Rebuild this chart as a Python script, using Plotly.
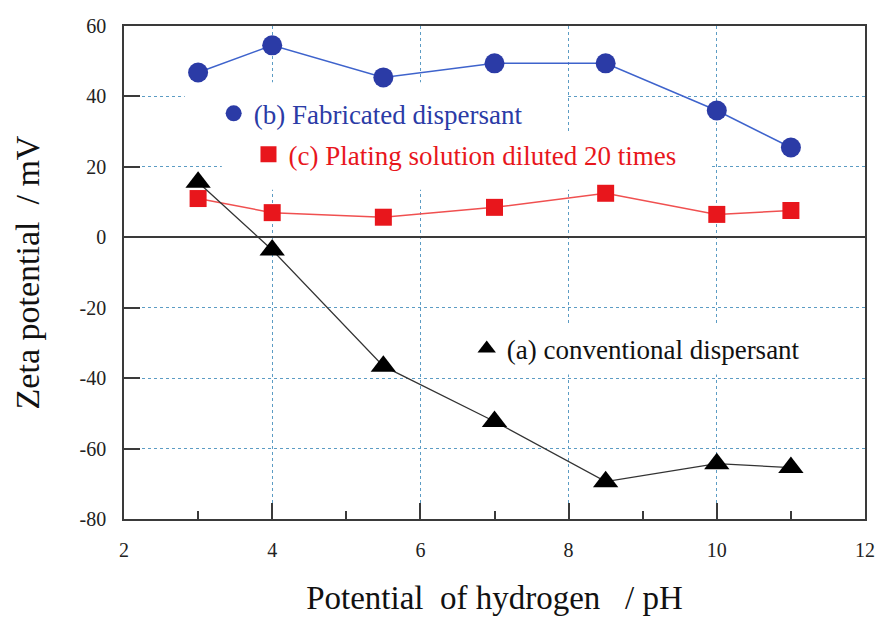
import plotly.graph_objects as go

ph = [3, 4, 5.5, 7, 8.5, 10, 11]
zeta_a = [15.6, -3.6, -36.6, -52.3, -69.4, -64.3, -65.4]
zeta_b = [46.8, 54.5, 45.4, 49.4, 49.4, 36.0, 25.5]
zeta_c = [11.0, 7.0, 5.7, 8.5, 12.5, 6.5, 7.6]

name_a = "(a) conventional dispersant"
name_b = "(b)\u00a0Fabricated dispersant"
name_c = "(c)\u00a0Plating solution diluted 20 times"

x_title = "Potential\u00a0\u00a0of hydrogen\u00a0\u00a0\u00a0/ pH"
y_title = "Zeta potential\u00a0\u00a0/ mV"
x_ticks = [2, 4, 6, 8, 10, 12]
x_ticktext = ["2", "4", "6", "8", "10", "12"]
y_ticks = [-80, -60, -40, -20, 0, 20, 40, 60]
y_ticktext = ["-80", "-60", "-40", "-20", "0", "20", "40", "60"]

SERIF = "Liberation Serif"
BLUE_M = "#2B3BA6"
BLUE_L = "#3E63CC"
RED = "#E8161C"
RED_L = "#F05050"
BLACK = "#000000"
GRID = "#5C9CC4"
AX = "#3A3A3A"

fig = go.Figure()

# data traces
fig.add_trace(go.Scatter(x=ph, y=zeta_b, mode="lines+markers", showlegend=False,
                         line=dict(color=BLUE_L, width=1.5),
                         marker=dict(symbol="circle", size=20, color=BLUE_M)))
fig.add_trace(go.Scatter(x=ph, y=zeta_c, mode="lines+markers", showlegend=False,
                         line=dict(color=RED_L, width=1.5),
                         marker=dict(symbol="square", size=17, color=RED)))
fig.add_trace(go.Scatter(x=ph, y=zeta_a, mode="lines+markers", showlegend=False,
                         line=dict(color="#333333", width=1.3),
                         marker=dict(symbol="triangle-up", size=22, color=BLACK)))

# legend-only symbol traces
fig.add_trace(go.Scatter(x=[None], y=[None], mode="markers", name=name_b, legend="legend",
                         marker=dict(symbol="circle", size=20, color=BLUE_M)))
fig.add_trace(go.Scatter(x=[None], y=[None], mode="markers", name=name_c, legend="legend2",
                         marker=dict(symbol="square", size=17, color=RED)))
fig.add_trace(go.Scatter(x=[None], y=[None], mode="markers", name=name_a, legend="legend3",
                         marker=dict(symbol="triangle-up", size=20, color=BLACK)))

# white boxes that interrupt the grid behind the legend texts
for x0, x1, y0, y1 in [(2.82, 7.96, 29.8, 44.0), (3.32, 9.9, 13.5, 29.8), (6.67, 11.2, -39.0, -24.5)]:
    fig.add_shape(type="rect", xref="x", yref="y", x0=x0, x1=x1, y0=y0, y1=y1,
                  fillcolor="white", line=dict(width=0), layer="between")

legend_common = dict(bgcolor="rgba(0,0,0,0)", borderwidth=0, xanchor="left", yanchor="middle",
                     itemsizing="trace")
fig.update_layout(
    width=877, height=617,
    margin=dict(l=124, r=12, t=26, b=98),
    paper_bgcolor="white", plot_bgcolor="white",
    font=dict(family=SERIF, color="#222222"),
    legend=dict(x=0.121, y=0.822, font=dict(family=SERIF, size=27, color="#2B3BA6"), **legend_common),
    legend2=dict(x=0.168, y=0.739, font=dict(family=SERIF, size=27, color="#E8161C"), **legend_common),
    legend3=dict(x=0.4625, y=0.345, font=dict(family=SERIF, size=27, color="#111111"), **legend_common),
    xaxis=dict(range=[2, 12], tickvals=x_ticks, ticktext=x_ticktext, ticks="inside", ticklen=16,
               tickwidth=1.5, tickcolor=AX, showline=True, linecolor=AX, linewidth=1.5, mirror=True,
               showgrid=True, gridcolor=GRID, griddash="dot", gridwidth=1.3,
               zeroline=False, automargin=False, ticklabelstandoff=12,
               tickfont=dict(family=SERIF, size=20, color="#222222"),
               minor=dict(tickvals=[3, 5, 7, 9, 11], ticks="inside", ticklen=8, tickcolor=AX,
                          tickwidth=1.5, showgrid=False),
               title=dict(text=x_title, font=dict(family=SERIF, size=33, color="#111111"), standoff=26)),
    yaxis=dict(range=[-80, 60], tickvals=y_ticks, ticktext=y_ticktext, ticks="inside", ticklen=16,
               tickwidth=1.5, tickcolor=AX, showline=True, linecolor=AX, linewidth=1.5, mirror=True,
               showgrid=True, gridcolor=GRID, griddash="dot", gridwidth=1.3,
               zeroline=True, zerolinecolor=AX, zerolinewidth=1.5, automargin=False,
               ticklabelstandoff=12,
               tickfont=dict(family=SERIF, size=20, color="#222222"),
               title=dict(text=y_title, font=dict(family=SERIF, size=34, color="#111111"), standoff=30)),
)

fig.write_html("out.html", config={"displayModeBar": False},
               post_script="document.body.style.margin='0';")
